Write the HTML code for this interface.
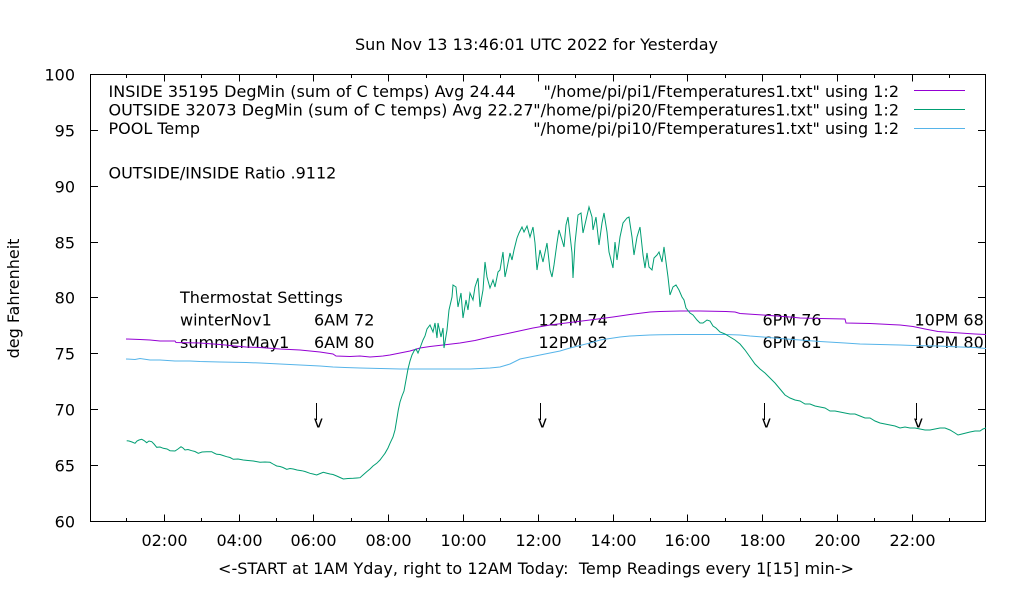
<!DOCTYPE html>
<html><head><meta charset="utf-8"><style>
html,body{margin:0;padding:0;background:#fff;}
svg{display:block;}
text{font-family:"DejaVu Sans","Liberation Sans",sans-serif;font-size:16px;fill:#000;white-space:pre;}
</style></head><body>
<svg width="1020" height="600" viewBox="0 0 1020 600" xmlns="http://www.w3.org/2000/svg">
<rect x="0" y="0" width="1020" height="600" fill="#fff"/>
<text x="355" y="50" textLength="363">Sun Nov 13 13:46:01 UTC 2022 for Yesterday</text>

<g stroke="#000" stroke-width="1" shape-rendering="crispEdges" fill="none">
<rect x="90.5" y="74.5" width="895" height="447"/>
<path d="M90.5 130.5h7.5M90.5 186.5h7.5M90.5 242.5h7.5M90.5 297.5h7.5M90.5 353.5h7.5M90.5 409.5h7.5M90.5 465.5h7.5
M985.5 130.5h-7.5M985.5 186.5h-7.5M985.5 242.5h-7.5M985.5 297.5h-7.5M985.5 353.5h-7.5M985.5 409.5h-7.5M985.5 465.5h-7.5"/>
<path d="M164.5 521.5v-7M239.5 521.5v-7M313.5 521.5v-7M388.5 521.5v-7M463.5 521.5v-7M538.5 521.5v-7M613.5 521.5v-7M687.5 521.5v-7M762.5 521.5v-7M837.5 521.5v-7M912.5 521.5v-7
M126.5 521.5v-3.5M201.5 521.5v-3.5M276.5 521.5v-3.5M351.5 521.5v-3.5M426.5 521.5v-3.5M500.5 521.5v-3.5M575.5 521.5v-3.5M650.5 521.5v-3.5M725.5 521.5v-3.5M800.5 521.5v-3.5M874.5 521.5v-3.5M949.5 521.5v-3.5
M164.5 74.5v7M239.5 74.5v7M313.5 74.5v7M388.5 74.5v7M463.5 74.5v7M538.5 74.5v7M613.5 74.5v7M687.5 74.5v7M762.5 74.5v7M837.5 74.5v7M912.5 74.5v7
M126.5 74.5v3.5M201.5 74.5v3.5M276.5 74.5v3.5M351.5 74.5v3.5M426.5 74.5v3.5M500.5 74.5v3.5M575.5 74.5v3.5M650.5 74.5v3.5M725.5 74.5v3.5M800.5 74.5v3.5M874.5 74.5v3.5M949.5 74.5v3.5"/>
</g>

<g text-anchor="end">
<text x="75" y="80.5">100</text>
<text x="75" y="136.5">95</text>
<text x="75" y="192.5">90</text>
<text x="75" y="248.5">85</text>
<text x="75" y="303.5">80</text>
<text x="75" y="359.5">75</text>
<text x="75" y="415.5">70</text>
<text x="75" y="471.5">65</text>
<text x="75" y="527.5">60</text>
</g>
<g text-anchor="middle">
<text x="164.5" y="546">02:00</text>
<text x="239.5" y="546">04:00</text>
<text x="313.5" y="546">06:00</text>
<text x="388.5" y="546">08:00</text>
<text x="463.5" y="546">10:00</text>
<text x="538.5" y="546">12:00</text>
<text x="613.5" y="546">14:00</text>
<text x="687.5" y="546">16:00</text>
<text x="762.5" y="546">18:00</text>
<text x="837.5" y="546">20:00</text>
<text x="912.5" y="546">22:00</text>
</g>
<text x="218" y="574" textLength="636">&lt;-START at 1AM Yday, right to 12AM Today:  Temp Readings every 1[15] min-&gt;</text>
<text transform="translate(19,298.5) rotate(-90)" text-anchor="middle">deg Fahrenheit</text>

<!-- legend -->
<text x="108.5" y="97" textLength="407">INSIDE 35195 DegMin (sum of C temps) Avg 24.44</text>
<text x="108.5" y="115.5" textLength="425">OUTSIDE 32073 DegMin (sum of C temps) Avg 22.27</text>
<text x="108.5" y="134">POOL Temp</text>
<text x="108.5" y="178.5">OUTSIDE/INSIDE Ratio .9112</text>
<g text-anchor="end">
<text x="899" y="97">"/home/pi/pi1/Ftemperatures1.txt" using 1:2</text>
<text x="899" y="115.5">"/home/pi/pi20/Ftemperatures1.txt" using 1:2</text>
<text x="899" y="134">"/home/pi/pi10/Ftemperatures1.txt" using 1:2</text>
</g>
<g stroke-width="1" shape-rendering="crispEdges">
<line x1="914" y1="90.5" x2="965" y2="90.5" stroke="#9400d3"/>
<line x1="914" y1="109.5" x2="965" y2="109.5" stroke="#009e73"/>
<line x1="914" y1="128.5" x2="965" y2="128.5" stroke="#56b4e9"/>
</g>

<!-- thermostat labels -->
<text x="180" y="303">Thermostat Settings</text>
<text x="180" y="325.5">winterNov1</text>
<text x="180" y="348">summerMay1</text>
<text x="314" y="325.5">6AM 72</text>
<text x="314" y="348">6AM 80</text>
<text x="538.5" y="325.5">12PM 74</text>
<text x="538.5" y="348">12PM 82</text>
<text x="762.5" y="325.5">6PM 76</text>
<text x="762.5" y="348">6PM 81</text>
<text x="914.5" y="325.5">10PM 68</text>
<text x="914.5" y="348">10PM 80</text>

<!-- arrows -->
<g stroke="#000" stroke-width="1" shape-rendering="crispEdges">
<line x1="316.5" y1="403" x2="316.5" y2="420"/>
<line x1="540.5" y1="403" x2="540.5" y2="420"/>
<line x1="764.5" y1="403" x2="764.5" y2="420"/>
<line x1="916.5" y1="403" x2="916.5" y2="420"/>
</g>
<g text-anchor="middle">
<text x="318.3" y="427.5">v</text>
<text x="542.3" y="427.5">v</text>
<text x="766.3" y="427.5">v</text>
<text x="918.3" y="427.5">v</text>
</g>

<!-- series -->
<polyline fill="none" stroke="#56b4e9" stroke-width="1" points="126,359 135,359.5 140,358.5 150,360 160,360 175,361 190,361 200,361.5 220,362 246,362.5 260,363 280,364 300,365 320,366 333,367 345,367.5 360,368 380,368.5 400,369 430,369 450,369 470,369 490,368 500,367 510,364 520,359 530,357 545,354 560,351 570,348 580,345.5 590,343 600,340 610,338.5 620,337 630,336 640,335.5 650,335 660,334.7 680,334.5 700,334.5 726,334.5 740,335 750,336 763,337 780,338.5 800,340 820,341.5 845,343 860,344 880,344.5 900,345 913,345.5 938,346 960,347 975,347.5 986,348.5"/>

<polyline fill="none" stroke="#9400d3" stroke-width="1" points="126,339 140,339.5 150,340 160,341 175,341 176,342.5 200,343 220,344.5 235,346 246,347 260,347.5 280,349 300,350 320,352 333,354 336,356 350,356.5 360,356 370,357 383,356 390,355 400,353 410,351 420,348 430,346.5 443,345 460,343 475,340.5 490,337 510,333 533,328 550,325 566,323 590,320 613,317 630,314.5 650,312 660,311.5 680,311 700,311 726,311.5 735,312 740,313.5 763,315 790,317 800,318 820,318.5 845,319 846,323 870,323.5 900,325 913,326.5 925,329 938,331.5 960,333 975,334 986,334.5"/>

<polyline fill="none" stroke="#009e73" stroke-width="1" points="126.7,440.7 129,441 132,442 135,443.3 137,441 139,440 141.7,439.3 144,440.5 146.7,442.7 149,441 151.7,441.7 154,444 156.7,447.3 160,447 163.3,448.3 167,449 170,450.7 175,451 178,449 181,446.7 183,448 185,450 188,449.5 191.7,450.7 195,451.5 198.3,453.3 202,452 206.7,451.7 211.7,451.7 214,453 216.7,454.3 220,454.5 223,455.5 226.7,456.7 230,457.5 233.3,459.3 238,459 243.3,460 248,460.5 253.3,461 256,461.5 260,462.3 265,462 270,462.3 273,464 276.7,466 280,466.5 283,467.5 286.7,469.3 290,468.5 293.3,469 297,470 301.7,470.7 305,471.5 310,473.3 313,474 316.7,475 319,474 323.3,472.3 326,473 330,474 333,474.5 336.7,476 340,477.5 343.3,479 348,478.5 353.3,478.3 357,478 360,477.7 363,475 366.7,471.7 370,469 373,466 376.7,463.3 380,460 383,456 385,453.3 388,448 390,443.3 393,437 395,430 397,418 398.3,410 400,402 402,396 404,391 406,380 408,369 410,361 412,355 414,351 416,349 418,353 420,348 423,340 425,336 427,329 430,325 433,332 435,323 437,338 438,323 441,337 443,328 444,348 447,330 449,310 452,297 453,285 456,287 458,307 461,293 463,318 466,300 468,310 470,293 473,300 475,287 478,278 480,307 483,290 485,262 487,277 490,288 493,280 495,287 498,272 500,270 503,252 505,277 507,268 510,253 512,260 514,250 517,238 519,233 522,227 524,232 527,226 530,237 533,227 535,243 537,270 540,250 543,262 547,243 550,270 552,277 554,265 557,243 559,230 562,240 564,247 566,225 568,217 570,235 572,253 573,278 575,243 578,215 581,213 583,233 586,220 589,207 592,217 593,230 596,217 599,245 602,223 604,213 607,232 609,252 613,268 615,242 617,260 620,237 623,223 627,218 629,217 632,237 634,255 637,237 640,227 643,255 645,268 647,253 649,267 652,270 654,258 657,255 659,252 662,262 664,247 666,262 668,277 670,295 673,287 676,285 679,290 682,297 684,300 686,308 690,313 693,315 697,320 700,323 703,323 707,320 710,321 713,326 716,328 720,332 725,334 730,337 735,340 740,344 745,350 750,357 755,364 760,369 765,373 770,378 775,383 780,389 785,395 790,398 795,400 800,401 805,404 810,404 815,406 820,407 825,408 830,411 835,411 840,412 845,413 850,414 855,414 860,416 865,418 870,418 875,421 880,423 885,424 890,425 895,426 900,428 905,427 910,428 915,428 920,429 925,430 930,430 935,429 940,428 945,428 950,430 955,433 958,435 962,434 966,433 970,432 975,431 980,431 983,429 986,428"/>
</svg>
</body></html>
